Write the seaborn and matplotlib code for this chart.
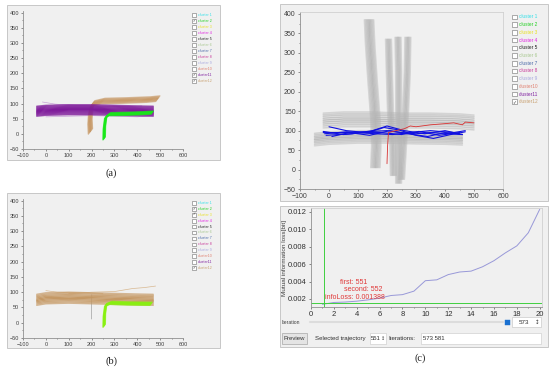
import numpy as np
import pandas as pd
import matplotlib
matplotlib.use("Agg")
import matplotlib.pyplot as plt
import seaborn as sns
from matplotlib.patches import Rectangle

# ---------------- data ----------------
cluster_names = ["cluster 1", "cluster 2", "cluster 3", "cluster 4", "cluster 5", "cluster 6",
                 "cluster 7", "cluster 8", "cluster 9", "cluster10", "cluster11", "cluster12"]
cluster_colors = ["#30e0e8", "#20d020", "#e8e020", "#e020e0", "#202020", "#a8c890",
                  "#4868a8", "#c83898", "#a8a8e0", "#e08070", "#8020a0", "#c8a070"]
checked_a = [1, 10, 11]
checked_b = [1, 2, 11]
checked_c = [11]

# panel (a): trajectory bundles (centre path + offsets)
a_purple_x = [-40, 0, 100, 200, 300, 400, 470]
a_purple_y = [75, 78, 80, 80, 78, 76, 75]
a_purple_off = [-17, -14, -11, -8, -5, -2, 1, 4, 7, 10, 13, 16]
a_tan_x = [195, 193, 196, 205, 250, 350, 450, 490]
a_tan_y = [8, 40, 75, 100, 108, 110, 113, 116]
a_tan_off = [-9, -6, -3, 0, 3, 6, 9]
a_green_x = [255, 256, 262, 280, 350, 420, 465]
a_green_y = [-15, 20, 55, 65, 66, 68, 70]
a_green_off = [-5, -3, -1, 1, 3, 5]
a_lilac1_x = [-15, 40, 100, 200, 300, 420]
a_lilac1_y = [105, 98, 95, 92, 90, 92]
a_lilac2_x = [0, 100, 200, 300, 400, 460]
a_lilac2_y = [56, 58, 60, 58, 56, 60]

# panel (b)
b_tan_x = [-40, 0, 100, 200, 300, 400, 470]
b_tan_y = [75, 80, 82, 80, 78, 76, 75]
b_tan_off = [-18, -14, -10, -6, -2, 2, 6, 10, 14, 18]
b_thin1_x = [100, 200, 300, 380, 430, 480]
b_thin1_y = [95, 100, 102, 112, 115, 120]
b_thin2_x = [0, 50, 150, 250]
b_thin2_y = [105, 100, 98, 95]
b_green_x = [255, 256, 262, 285, 360, 460]
b_green_y = [-10, 25, 58, 65, 63, 62]
b_green_off = [-5, -3, -1, 1, 3, 5]
b_gray_x = [200, 200, 201]
b_gray_y = [12, 50, 92]

# panel (c) top: gray background trajectories
c_low_x = [-50, 0, 100, 200, 300, 400, 460]
c_low_y = [78, 82, 85, 85, 83, 82, 80]
c_low_off = [-17, -13, -9, -5, -1, 3, 7, 11, 15]
c_up_x = [-20, 50, 150, 250, 350, 450, 500]
c_up_y = [125, 128, 128, 125, 125, 123, 120]
c_up_off = [-18, -13, -8, -3, 2, 7, 12, 16, 20]
c_tall_x = [138, 142, 150, 160, 163, 160]
c_tall_y = [385, 320, 230, 130, 60, 5]
c_tall_off = [-16, -12, -8, -4, 0, 4, 8, 12, 16]
c_v1_x = [205, 208, 212, 220, 222]
c_v1_y = [335, 250, 150, 60, -15]
c_v2_x = [238, 240, 240, 240, 240]
c_v2_y = [340, 250, 150, 40, -35]
c_v3_x = [272, 270, 264, 256, 250]
c_v3_y = [340, 250, 150, 50, -25]
c_v_off = [-10, -6, -2, 2, 6, 10]

# highlighted blue trajectories
blue1_x = [-20, 50, 150, 200, 250, 300, 350, 400, 460]
blue1_y = [95, 95, 98, 100, 95, 92, 95, 93, 90]
blue2_x = [0, 60, 130, 190, 240, 300, 360, 420, 470]
blue2_y = [110, 100, 95, 108, 102, 88, 80, 90, 97]
blue3_x = [-10, 80, 150, 200, 260, 330, 400, 450]
blue3_y = [88, 92, 100, 112, 100, 92, 100, 92]
blue4_x = [-20, 50, 120, 180, 250, 310, 380, 450]
blue4_y = [98, 90, 95, 95, 90, 98, 88, 95]
blue5_x = [10, 70, 140, 210, 270, 340, 400, 460]
blue5_y = [85, 95, 88, 100, 92, 85, 95, 90]
blue6_x = [-15, 60, 160, 220, 280, 350, 430, 470]
blue6_y = [92, 97, 92, 90, 95, 100, 95, 100]
red_x = [200, 202, 205, 230, 260, 280, 300, 320, 350, 400, 430, 460, 470, 500]
red_y = [15, 60, 95, 100, 105, 112, 110, 112, 115, 118, 120, 115, 122, 120]

# panel (c) bottom: mutual information loss per iteration
iterations = list(range(1, 21))
mi_loss = [0.001388, 0.0016, 0.00165, 0.00175, 0.0019, 0.0021, 0.0024, 0.0025, 0.0029, 0.0041,
           0.0042, 0.0048, 0.0051, 0.0052, 0.0057, 0.0064, 0.0073, 0.0081, 0.0096, 0.0123]

# ---------------- figure ----------------
sns.set_theme(style="white")
plt.rcParams["font.family"] = ["Liberation Sans", "DejaVu Sans"]
W, H = 550, 368
fig = plt.figure(figsize=(5.5, 3.68), dpi=100)
fig.patch.set_facecolor("white")
BG = "#f0f0f0"


def rect(x0, y0, x1, y1):
    return [x0 / W, 1 - y1 / H, (x1 - x0) / W, (y1 - y0) / H]


def fx(x):
    return x / W


def fy(y):
    return 1 - y / H


def box(x0, y0, x1, y1, fc=BG, ec="#c0c0c0", lw=0.6, z=0):
    fig.add_artist(Rectangle((fx(x0), fy(y1)), (x1 - x0) / W, (y1 - y0) / H,
                             transform=fig.transFigure, facecolor=fc, edgecolor=ec,
                             lw=lw, zorder=z))


def single(xs, ys):
    return pd.DataFrame({"x": xs, "y": ys, "traj": 0})


def draw(ax, df, color, lw, alpha=1.0):
    sns.lineplot(data=df, x="x", y="y", units="traj", estimator=None, sort=False,
                 color=color, lw=lw, alpha=alpha, ax=ax, legend=False)


def draw_bundle(ax, xs, ys, offs, mode, color, lw, alpha, fade):
    """Each offset is one trajectory; outer trajectories are drawn lighter."""
    m = max(abs(o) for o in offs)
    for o in offs:
        dx = o if mode in ("x", "xy") else 0
        dy = o if mode in ("y", "xy") else 0
        df = pd.DataFrame({"x": [x + dx for x in xs], "y": [y + dy for y in ys], "traj": 0})
        a = alpha * (1 - fade * abs(o) / m)
        draw(ax, df, color, lw, a)


def style_traj_ax(ax, fs, full_box=False):
    ax.set_facecolor(BG)
    ax.set_xlim(-100, 600)
    ax.set_xticks([-100, 0, 100, 200, 300, 400, 500, 600])
    ax.set_yticks([-50, 0, 50, 100, 150, 200, 250, 300, 350, 400])
    ax.set_xticks(np.arange(-50, 600, 100), minor=True)
    ax.set_yticks(np.arange(-25, 400, 50), minor=True)
    ax.tick_params(which="both", direction="out", length=1.5, width=0.4, pad=1.5,
                   labelsize=fs, colors="#404040", bottom=True, left=True)
    ax.tick_params(which="minor", length=1.0)
    for s in ["left", "bottom"]:
        ax.spines[s].set_color("#909090")
        ax.spines[s].set_linewidth(0.6)
    for s in ["top", "right"]:
        ax.spines[s].set_visible(full_box)
        ax.spines[s].set_color("#d0d0d0")
        ax.spines[s].set_linewidth(0.6)
    ax.set_xlabel("")
    ax.set_ylabel("")


def legend(x_box, y0, dy, size, fs, checked):
    for i, (name, col) in enumerate(zip(cluster_names, cluster_colors)):
        yc = y0 + i * dy
        box(x_box, yc - size / 2, x_box + size, yc + size / 2, fc="white", ec="#707070", lw=0.4, z=5)
        if i in checked:
            fig.text(fx(x_box + size / 2), fy(yc), "\u2713", fontsize=fs, color="#404040",
                     ha="center", va="center", family=["DejaVu Sans"], zorder=6)
        fig.text(fx(x_box + size + 2.5), fy(yc), name, fontsize=fs, color=col,
                 ha="left", va="center", zorder=6)


# frames
box(7, 5, 220, 160)
box(7, 193, 220, 348)
box(280, 4, 548, 201)
box(280, 206, 548, 347)

# ---- panel (a)
ax_a = fig.add_axes(rect(23, 11, 183, 149))
draw(ax_a, single(a_lilac1_x, a_lilac1_y), "#c8a0d8", 0.5)
draw(ax_a, single(a_lilac2_x, a_lilac2_y), "#c8a0d8", 0.5)
draw_bundle(ax_a, a_tan_x, a_tan_y, a_tan_off, "xy", "#c89a68", 1.0, 1.0, 0.35)
draw_bundle(ax_a, a_purple_x, a_purple_y, a_purple_off, "y", "#7e1a9a", 1.0, 1.0, 0.3)
draw_bundle(ax_a, a_green_x, a_green_y, a_green_off, "xy", "#18e818", 1.0, 1.0, 0.3)
ax_a.set_ylim(-50, 405)
style_traj_ax(ax_a, 4)
legend(192, 15, 6.0, 3.6, 2.6, checked_a)

# ---- panel (b)
ax_b = fig.add_axes(rect(23, 199, 183, 338))
draw(ax_b, single(b_thin1_x, b_thin1_y), "#d8b890", 0.5)
draw(ax_b, single(b_thin2_x, b_thin2_y), "#d8b890", 0.5)
draw(ax_b, single(b_gray_x, b_gray_y), "#a0a0a0", 0.5)
draw_bundle(ax_b, b_tan_x, b_tan_y, b_tan_off, "y", "#c49660", 1.0, 1.0, 0.35)
draw_bundle(ax_b, b_green_x, b_green_y, b_green_off, "xy", "#88f010", 1.0, 1.0, 0.3)
ax_b.set_ylim(-50, 405)
style_traj_ax(ax_b, 4)
legend(192, 203, 5.9, 3.6, 2.6, checked_b)

# ---- panel (c) top
ax_c = fig.add_axes(rect(300, 12, 503, 189))
gray = "#b4b4b4"
for xs, ys, offs, mode in [(c_low_x, c_low_y, c_low_off, "y"),
                           (c_up_x, c_up_y, c_up_off, "y"),
                           (c_tall_x, c_tall_y, c_tall_off, "x"),
                           (c_v1_x, c_v1_y, c_v_off, "x"),
                           (c_v2_x, c_v2_y, c_v_off, "x"),
                           (c_v3_x, c_v3_y, c_v_off, "x")]:
    draw_bundle(ax_c, xs, ys, offs, mode, gray, 1.1, 0.85, 0.45)
for xs, ys in [(blue1_x, blue1_y), (blue2_x, blue2_y), (blue3_x, blue3_y),
               (blue4_x, blue4_y), (blue5_x, blue5_y), (blue6_x, blue6_y)]:
    draw(ax_c, single(xs, ys), "#1010e0", 0.8)
draw(ax_c, single(red_x, red_y), "#d83030", 0.6)
ax_c.set_ylim(-50, 405)
style_traj_ax(ax_c, 5, full_box=True)
legend(512, 17, 7.7, 4.6, 3.4, checked_c)

# ---- panel (c) bottom
ax_m = fig.add_axes(rect(311, 208, 542, 307))
ax_m.set_facecolor(BG)
sns.lineplot(x=iterations, y=mi_loss, color="#9898d8", lw=0.7, ax=ax_m)
ax_m.axvline(1.15, color="#40d040", lw=0.7)
ax_m.axhline(0.0015, color="#40d040", lw=0.7)
ax_m.set_xlim(0, 20.2)
ax_m.set_ylim(0.00108, 0.01245)
ax_m.set_xticks(range(0, 21, 2))
ax_m.set_xticks(range(1, 21, 2), minor=True)
ax_m.set_yticks([0.002, 0.004, 0.006, 0.008, 0.010, 0.012])
ax_m.set_yticklabels(["0.002", "0.004", "0.006", "0.008", "0.010", "0.012"])
ax_m.tick_params(which="both", direction="out", length=1.5, width=0.4, pad=1.5,
                 labelsize=5.5, colors="#303030", bottom=True, left=True)
ax_m.tick_params(which="minor", length=1.0)
for s in ["left", "bottom"]:
    ax_m.spines[s].set_color("#909090")
    ax_m.spines[s].set_linewidth(0.6)
for s in ["top", "right"]:
    ax_m.spines[s].set_color("#d0d0d0")
    ax_m.spines[s].set_linewidth(0.6)
ax_m.set_xlabel("")
ax_m.set_ylabel("Mutual information loss[bit]", fontsize=4.6, color="#404040", labelpad=1)
for txt, xv, yv in [("first: 551", 3.7, 0.00395), ("second: 552", 4.55, 0.0031),
                    ("infoLoss: 0.001388", 3.85, 0.00213)]:
    ax_m.text(xv, yv, txt, color="#e03838", fontsize=5, ha="center", va="center")

# controls
fig.text(fx(282), fy(322), "Iteration", fontsize=3.6, color="#404040", va="center")
fig.add_artist(plt.Line2D([fx(310), fx(503)], [fy(322), fy(322)], transform=fig.transFigure,
                          color="#dcdcdc", lw=1.5))
box(505, 320, 509.5, 324.5, fc="#1a70d0", ec="#1a70d0", lw=0.3, z=5)
box(512, 317, 541, 327, fc="white", ec="#c0c0c0", lw=0.4, z=5)
fig.text(fx(519), fy(322), "573", fontsize=4.5, color="#303030", va="center", zorder=6)
fig.text(fx(537), fy(322), "\u2195", fontsize=4, color="#404040", va="center", ha="center",
         family=["DejaVu Sans"], zorder=6)
box(282, 333, 307, 344, fc="#e4e4e4", ec="#a8a8a8", lw=0.5, z=5)
fig.text(fx(294.5), fy(338.5), "Preview", fontsize=4.3, color="#303030", va="center",
         ha="center", zorder=6)
fig.text(fx(315), fy(338.5), "Selected trajectory", fontsize=4.4, color="#303030",
         va="center", zorder=6)
box(370, 333, 386, 344, fc="white", ec="#c8c8c8", lw=0.4, z=5)
fig.text(fx(371), fy(338.5), "551", fontsize=4.3, color="#303030", va="center", zorder=6)
fig.text(fx(383.5), fy(338.5), "\u2195", fontsize=3.6, color="#404040", va="center",
         ha="center", family=["DejaVu Sans"], zorder=6)
fig.text(fx(388), fy(338.5), "Iterations:", fontsize=4.4, color="#303030", va="center", zorder=6)
box(421, 333, 541, 344, fc="white", ec="#c8c8c8", lw=0.4, z=5)
fig.text(fx(423), fy(338.5), "573 581", fontsize=4.3, color="#303030", va="center", zorder=6)

# panel labels
for lab, x, y in [("(a)", 111, 173), ("(b)", 111, 361), ("(c)", 420, 358)]:
    fig.text(fx(x), fy(y), lab, fontsize=7.5, ha="center", va="center",
             family=["Liberation Serif", "DejaVu Serif"], color="#202020")

fig.savefig("out.png", dpi=100, facecolor="white")
